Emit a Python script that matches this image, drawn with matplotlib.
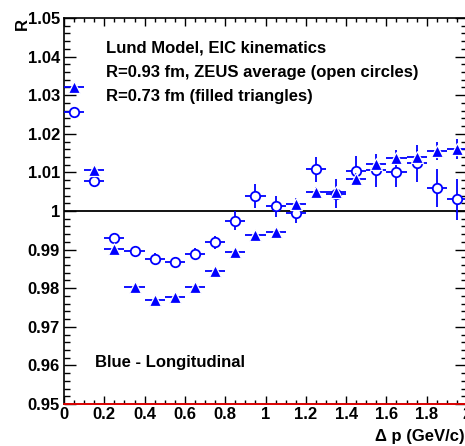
import numpy as np
import matplotlib
matplotlib.use("Agg")
from matplotlib import pyplot as plt
from matplotlib.ticker import MultipleLocator, FixedFormatter, FixedLocator

plt.rcParams['font.family'] = ['Liberation Sans', 'DejaVu Sans']
plt.rcParams['font.weight'] = 'bold'

# bin centres in Delta p (GeV/c)
dp = [0.05, 0.15, 0.25, 0.35, 0.45, 0.55, 0.65, 0.75, 0.85, 0.95,
      1.05, 1.15, 1.25, 1.35, 1.45, 1.55, 1.65, 1.75, 1.85, 1.95]
dp_err = [0.05] * 20

# R = 0.93 fm, ZEUS average (open circles)
r_zeus = [1.0256, 1.0078, 0.9930, 0.9897, 0.9875, 0.9867, 0.9888, 0.9919, 0.9975, 1.0039,
          1.0012, 0.9996, 1.0108, 1.0045, 1.0103, 1.0105, 1.0101, 1.0124, 1.0060, 1.0030]
r_zeus_err = [0.0007, 0.0008, 0.0012, 0.0012, 0.0016, 0.0015, 0.0016, 0.0017, 0.0024, 0.0031,
              0.0027, 0.0027, 0.0032, 0.0037, 0.0039, 0.0042, 0.0039, 0.0048, 0.0050, 0.0053]

# R = 0.73 fm (filled triangles)
r_073 = [1.0322, 1.0107, 0.9901, 0.9804, 0.9769, 0.9776, 0.9802, 0.9845, 0.9894, 0.9938,
         0.9946, 1.0019, 1.0048, 1.0049, 1.0083, 1.0121, 1.0138, 1.0141, 1.0156, 1.0161]
r_073_err = [0.0004, 0.0004, 0.0005, 0.0005, 0.0005, 0.0005, 0.0005, 0.0006, 0.0006, 0.0008,
             0.0009, 0.0014, 0.0014, 0.0015, 0.0016, 0.0016, 0.0021, 0.0018, 0.0023, 0.0026]

xt = [0, 0.2, 0.4, 0.6, 0.8, 1, 1.2, 1.4, 1.6, 1.8, 2]
xt_labels = ['0', '0.2', '0.4', '0.6', '0.8', '1', '1.2', '1.4', '1.6', '1.8', '2']
yt = [0.95, 0.96, 0.97, 0.98, 0.99, 1.0, 1.01, 1.02, 1.03, 1.04, 1.05]
yt_labels = ['0.95', '0.96', '0.97', '0.98', '0.99', '1',
             '1.01', '1.02', '1.03', '1.04', '1.05']

W, H = 465, 446
fig = plt.figure(figsize=(W / 100, H / 100), dpi=100)
ax = fig.add_axes([64 / W, 42 / H, 403 / W, 386 / H])

blue = '#0000ff'
ax.errorbar(dp, r_zeus, xerr=dp_err, yerr=r_zeus_err, fmt='o', color=blue,
            mfc='white', mec=blue, ms=6.8, mew=1.3, elinewidth=1.3, capsize=0, zorder=3)
ax.errorbar(dp, r_073, xerr=dp_err, yerr=r_073_err, fmt='^', color=blue,
            mfc=blue, mec='white', ms=8.5, mew=0.9, elinewidth=1.3, capsize=0, zorder=4)

ax.axhline(1.0, color='black', lw=1.3, zorder=2)
ax.axhline(0.95, color='red', lw=1.2, zorder=5, clip_on=False)

ax.set_xlim(0, 2)
ax.set_ylim(0.95, 1.05)
ax.xaxis.set_major_locator(FixedLocator(xt))
ax.xaxis.set_major_formatter(FixedFormatter(xt_labels))
ax.xaxis.set_minor_locator(MultipleLocator(0.05))
ax.yaxis.set_major_locator(FixedLocator(yt))
ax.yaxis.set_major_formatter(FixedFormatter(yt_labels))
ax.yaxis.set_minor_locator(MultipleLocator(0.002))

ax.tick_params(axis='both', which='both', direction='in', top=True, right=True,
               width=1, labelsize=12)
ax.tick_params(axis='x', which='major', length=6, pad=2)
ax.tick_params(axis='x', which='minor', length=3)
ax.tick_params(axis='y', which='major', length=8.5, pad=3)
ax.tick_params(axis='y', which='minor', length=4.3)
for lab in ax.get_xticklabels() + ax.get_yticklabels():
    lab.set_fontweight('bold')
for s in ax.spines.values():
    s.set_linewidth(1.2)

fig.text(22 / W, 1 - 24 / H, 'R', rotation=90, ha='center', va='center',
         fontsize=12, fontweight='bold')
fig.text(465 / W, 1 - 437 / H, '\u0394 p (GeV/c)', ha='right', va='center',
         fontsize=12, fontweight='bold')

txt = dict(fontsize=12, fontweight='bold', ha='left', va='center')
fig.text(106 / W, 1 - 48 / H, 'Lund Model, EIC kinematics', **txt)
fig.text(106 / W, 1 - 73 / H, 'R=0.93 fm, ZEUS average (open circles)', **txt)
fig.text(106 / W, 1 - 97 / H, 'R=0.73 fm (filled triangles)', **txt)
fig.text(95 / W, 1 - 362 / H, 'Blue - Longitudinal', **txt)

fig.savefig('out.png', dpi=100)
